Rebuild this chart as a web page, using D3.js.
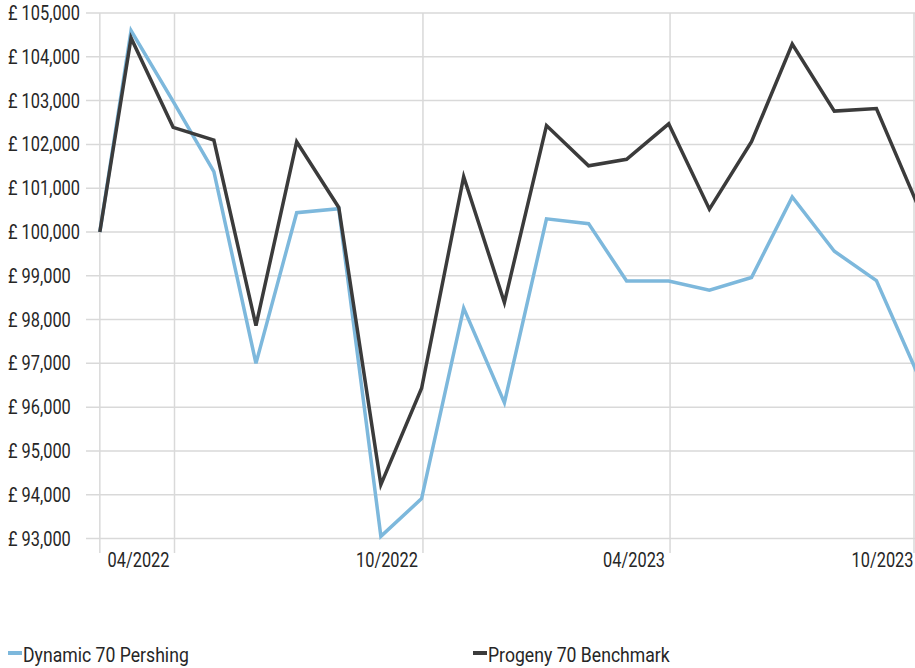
<!DOCTYPE html>
<html>
<head>
<meta charset="utf-8">
<script src="https://cdn.jsdelivr.net/npm/d3@7"></script>
<style>
  body { margin: 0; background: #fff; overflow: hidden; }
  text { font-family: Roboto, "Noto Sans", sans-serif; fill: #262626; }
</style>
</head>
<body>
<script>
// month-end valuations, first point is the start date
const dates = [
  '2022-02-05', '2022-02-28', '2022-03-31', '2022-04-30', '2022-05-31', '2022-06-30',
  '2022-07-31', '2022-08-31', '2022-09-30', '2022-10-31', '2022-11-30', '2022-12-31',
  '2023-01-31', '2023-02-28', '2023-03-31', '2023-04-30', '2023-05-31', '2023-06-30',
  '2023-07-31', '2023-08-31', '2023-09-30',
];
const dynamic70 = [
  100000, 104600, 102980, 101380, 97000, 100440, 100530, 93050, 93910, 98260, 96100,
  100300, 100190, 98880, 98880, 98670, 98960, 100800, 99560, 98890, 96780,
];
const progeny70 = [
  100000, 104430, 102390, 102100, 97860, 102060, 100560, 94230, 96430, 101260, 98390,
  102430, 101510, 101660, 102470, 100520, 102060, 104290, 102760, 102820, 100640,
];
const seriesNames = ['Dynamic 70 Pershing', 'Progeny 70 Benchmark'];
const seriesColors = ['#7db8dc', '#3b3b3b'];
const xTickDates = ['2022-04-01', '2022-10-01', '2023-04-01', '2023-10-01'];
const yTicks = d3.range(93000, 105001, 1000);

const W = 915;
const H = 668;
const plot = { left: 100.5, right: 915, top: 13, bottom: 538.5 };
const squeeze = 0.84; // the original font is a condensed face

const parse = d3.timeParse('%Y-%m-%d');

const svg = d3.select('body')
  .append('svg')
  .attr('width', W)
  .attr('height', H);

const x = d3.scaleTime()
  .domain([parse('2022-04-01'), parse('2023-10-01')])
  .range([174.5, 918.5]);

const y = d3.scaleLinear()
  .domain([93000, 105000])
  .range([plot.bottom, plot.top]);

svg.append('clipPath')
  .attr('id', 'plotclip')
  .append('rect')
  .attr('x', 0)
  .attr('y', 0)
  .attr('width', plot.right)
  .attr('height', H);

// horizontal grid
svg.append('g')
  .selectAll('line')
  .data(yTicks)
  .join('line')
  .attr('x1', 86)
  .attr('x2', plot.right)
  .attr('y1', (d) => y(d))
  .attr('y2', (d) => y(d))
  .attr('stroke', '#d9d9d9')
  .attr('stroke-width', 1.5);

// vertical grid (axis line + month ticks)
svg.append('g')
  .selectAll('line')
  .data([parse(dates[0])].concat(xTickDates.map(parse)))
  .join('line')
  .attr('x1', (d) => Math.min(x(d), plot.right - 1))
  .attr('x2', (d) => Math.min(x(d), plot.right - 1))
  .attr('y1', plot.top)
  .attr('y2', 553)
  .attr('stroke', '#d9d9d9')
  .attr('stroke-width', 1.5);

// y labels
svg.append('g')
  .selectAll('text')
  .data(yTicks)
  .join('text')
  .attr('transform', (d) => `translate(8, ${y(d)}) scale(${squeeze}, 1)`)
  .attr('dy', '0.36em')
  .style('font-size', '19.5px')
  .text((d) => `£ ${d3.format(',')(d)}`);

// x labels
svg.append('g')
  .selectAll('text')
  .data(xTickDates.map(parse))
  .join('text')
  .attr('transform', (d) => `translate(${Math.min(x(d) - 5, plot.right)}, 567) scale(${squeeze}, 1)`)
  .attr('text-anchor', 'end')
  .style('font-size', '19.5px')
  .text((d) => d3.timeFormat('%m/%Y')(d));

// lines
const line = d3.line()
  .x((d) => x(d[0]))
  .y((d) => y(d[1]));

[dynamic70, progeny70].forEach((vals, i) => {
  svg.append('path')
    .datum(dates.map((d, j) => [parse(d), vals[j]]))
    .attr('d', line)
    .attr('clip-path', 'url(#plotclip)')
    .attr('fill', 'none')
    .attr('stroke', seriesColors[i])
    .attr('stroke-width', 3.5)
    .attr('stroke-linejoin', 'miter');
});

// legend
const legendX = [8, 473];
seriesNames.forEach((name, i) => {
  svg.append('rect')
    .attr('x', legendX[i])
    .attr('y', 651)
    .attr('width', 14)
    .attr('height', 4)
    .attr('fill', seriesColors[i]);

  svg.append('text')
    .attr('transform', `translate(${legendX[i] + 15}, 662) scale(${squeeze}, 1)`)
    .style('font-size', '21px')
    .text(name);
});
</script>
</body>
</html>
